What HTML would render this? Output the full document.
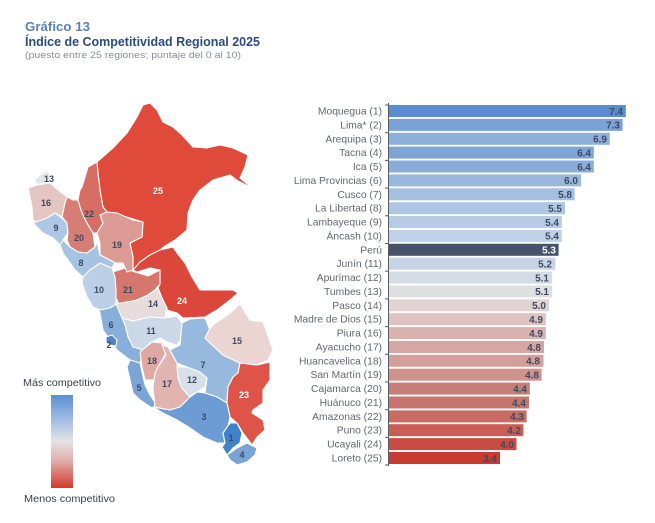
<!DOCTYPE html>
<html><head><meta charset="utf-8"><style>
html,body{margin:0;padding:0;background:#fff;}
svg{display:block;font-family:"Liberation Sans",sans-serif;}
</style></head><body>
<svg width="655" height="523" viewBox="0 0 655 523" xmlns="http://www.w3.org/2000/svg">
<defs>
<linearGradient id="lg" x1="0" y1="0" x2="0" y2="1">
<stop offset="0" stop-color="#5b8fd3"/>
<stop offset="0.3" stop-color="#a9c3e4"/>
<stop offset="0.5" stop-color="#e6e3e4"/>
<stop offset="0.72" stop-color="#dfaaa6"/>
<stop offset="1" stop-color="#d5372b"/>
</linearGradient>
</defs>
<!-- Titles -->
<text x="25" y="31" font-size="13" font-weight="bold" fill="#5a80b8" textLength="65" lengthAdjust="spacingAndGlyphs">Gráfico 13</text>
<text x="25" y="46" font-size="13" font-weight="bold" fill="#2c4c80" textLength="235" lengthAdjust="spacingAndGlyphs">Índice de Competitividad Regional 2025</text>
<text x="25" y="58" font-size="9.5" fill="#8a8f99" textLength="216" lengthAdjust="spacingAndGlyphs">(puesto entre 25 regiones; puntaje del 0 al 10)</text>

<!-- Map -->
<g stroke="#ffffff" stroke-width="1.1" stroke-linejoin="round">
<polygon fill="#e04a3b" points="97,162 113,148 127,133 137,117 143,105 150,103 157,110 163,122 173,127 182,135 193,147 207,148 220,145 233,148 248,155 245,167 240,178 252,188 238,181 230,175 213,180 200,190 193,200 188,213 187,230 175,240 165,246 160,250 150,255 140,262 133,270 133,257 130,243 142,237 143,222 130,218 115,214 107,212 103,207 100,190 98,173"/>
<polygon fill="#dc473b" points="160,250 173,247 177,253 185,263 192,277 200,290 217,290 233,290 238,293 230,300 217,310 205,317 183,318 177,313 167,310 162,298 158,288 160,284 160,270 150,268 137,272 133,270 140,262 150,255"/>
<polygon fill="#d7766d" points="113,272 125,268 135,272 148,276 160,270 160,284 155,290 148,295 137,300 120,306 116,298 115,285"/>
<polygon fill="#e6dcdc" points="116,304 137,300 148,295 158,288 162,298 167,308 165,318 150,317 133,321 122,318"/>
<polygon fill="#cbd8e7" points="122,318 133,321 150,317 165,318 177,316 182,323 182,338 177,345 167,342 160,338 150,343 143,350 133,347 128,337 125,325"/>
<polygon fill="#88afdb" points="97,307 103,307 110,308 116,304 122,318 125,325 128,337 133,347 143,350 140,363 130,360 117,350 112,343 103,330 100,313"/>
<polygon fill="#4c86c9" points="106,337 112,335 117,340 116,346 110,345 106,342"/>
<polygon fill="#bbd0e6" points="83,277 90,270 100,263 112,268 115,277 116,290 116,304 110,308 100,310 93,307 87,297 82,283"/>
<polygon fill="#7ba5d7" points="130,360 140,363 142,372 145,385 150,395 157,405 152,408 140,400 133,393 130,380 127,367"/>
<polygon fill="#dea8a4" points="140,352 152,342 162,343 166,353 158,367 155,380 145,380 142,367"/>
<polygon fill="#e2b4b0" points="162,345 168,347 177,363 178,378 182,388 190,397 180,407 170,410 155,407 153,387 155,373 158,367 166,355"/>
<polygon fill="#d7dfe9" points="177,367 187,367 200,372 207,378 205,387 197,392 190,397 182,388 178,378"/>
<polygon fill="#98b9de" points="180,345 182,323 190,319 205,318 210,330 210,343 223,355 240,363 238,373 233,377 228,387 227,403 217,397 205,393 207,378 200,372 187,367 177,363 170,350"/>
<polygon fill="#ebd5d3" points="205,338 210,328 217,322 230,313 240,304 245,312 250,320 263,322 273,350 268,360 257,365 240,363 223,355 210,343"/>
<polygon fill="#df5448" points="240,363 257,365 270,362 270,380 263,390 263,403 253,410 252,413 263,420 265,430 257,437 252,445 243,433 237,423 230,417 227,403 228,387 233,377 238,373"/>
<polygon fill="#6d9bd3" points="153,407 170,410 180,407 190,397 197,392 205,393 217,397 227,403 230,417 228,427 223,433 225,443 217,443 203,437 190,428 177,420 163,413"/>
<polygon fill="#3f82c9" points="223,433 230,423 237,423 242,433 240,443 233,448 227,455 222,447 225,443"/>
<polygon fill="#7aa3d6" points="227,455 237,448 247,443 257,448 255,455 247,462 237,465 230,460"/>
<polygon fill="#e3e4e8" points="35,180 40,175 45,172 49,172 50,180 43,184 36,184"/>
<polygon fill="#e5c5c2" points="28,188 37,185 50,183 58,190 67,197 65,203 62,217 55,213 47,218 38,223 33,220 32,207 30,197"/>
<polygon fill="#adc8e4" points="33,223 47,218 55,213 62,218 67,223 68,233 63,240 60,245 53,238 43,233"/>
<polygon fill="#d67e76" points="67,197 73,200 78,200 82,213 87,223 93,233 95,247 87,253 78,252 70,247 67,240 68,233 67,223 62,217 65,203"/>
<polygon fill="#d76e63" points="82,187 88,167 97,162 98,173 100,190 103,207 107,212 100,215 103,223 97,233 93,233 87,223 82,213 78,200 80,190"/>
<polygon fill="#db9a93" points="100,215 107,212 117,213 133,220 143,222 142,237 130,243 133,257 133,270 127,272 123,263 115,263 110,260 100,255 100,243 97,233 103,223"/>
<polygon fill="#a6c3e2" points="60,245 63,240 70,247 78,252 87,253 95,247 97,242 100,255 110,260 115,263 112,268 100,263 90,270 83,277 75,270 68,260 63,253"/>
</g>
<g font-size="9" font-weight="bold" fill="#3c4a63" text-anchor="middle">
<text x="158" y="194" fill="#ffffff">25</text>
<text x="182" y="304" fill="#ffffff">24</text>
<text x="244" y="398" fill="#ffffff">23</text>
<text x="89" y="217">22</text>
<text x="128" y="293">21</text>
<text x="79" y="241">20</text>
<text x="117" y="248">19</text>
<text x="152" y="364">18</text>
<text x="167" y="387">17</text>
<text x="46" y="206">16</text>
<text x="237" y="344">15</text>
<text x="153" y="307">14</text>
<text x="49" y="182">13</text>
<text x="192" y="383">12</text>
<text x="151" y="334">11</text>
<text x="99" y="293">10</text>
<text x="56" y="231">9</text>
<text x="81" y="266">8</text>
<text x="203" y="368">7</text>
<text x="111" y="328">6</text>
<text x="139" y="391">5</text>
<text x="242" y="458">4</text>
<text x="204" y="420">3</text>
<text x="109" y="348">2</text>
<text x="231" y="441">1</text>
</g>

<!-- Legend -->
<text x="23" y="386" font-size="10" fill="#3a3f4a" textLength="78" lengthAdjust="spacingAndGlyphs">Más competitivo</text>
<rect x="51" y="395" width="22" height="93" fill="url(#lg)"/>
<text x="24" y="502" font-size="10" fill="#3a3f4a" textLength="91" lengthAdjust="spacingAndGlyphs">Menos competitivo</text>

<!-- Bars -->
<g>
<rect x="389" y="105.0" width="236.8" height="12" fill="#5b8ccf"/>
<rect x="389" y="118.9" width="233.6" height="12" fill="#7ba2d7"/>
<rect x="389" y="132.8" width="220.8" height="12" fill="#8db0db"/>
<rect x="389" y="146.6" width="204.8" height="12" fill="#7fa5d6"/>
<rect x="389" y="160.5" width="204.8" height="12" fill="#89acd8"/>
<rect x="389" y="174.4" width="192" height="12" fill="#9ab8dd"/>
<rect x="389" y="188.3" width="185.6" height="12" fill="#a4bfe0"/>
<rect x="389" y="202.2" width="176" height="12" fill="#afc6e2"/>
<rect x="389" y="216.0" width="172.8" height="12" fill="#b7cce4"/>
<rect x="389" y="229.9" width="172.8" height="12" fill="#bfd1e6"/>
<rect x="389" y="243.8" width="169.6" height="12" fill="#47536a"/>
<rect x="389" y="257.7" width="166.4" height="12" fill="#c6d4e5"/>
<rect x="389" y="271.6" width="163.2" height="12" fill="#d4dbe4"/>
<rect x="389" y="285.4" width="163.2" height="12" fill="#dedfe1"/>
<rect x="389" y="299.3" width="160" height="12" fill="#e2d3d3"/>
<rect x="389" y="313.2" width="156.8" height="12" fill="#dec3c1"/>
<rect x="389" y="327.1" width="156.8" height="12" fill="#dab3b0"/>
<rect x="389" y="341.0" width="155" height="12" fill="#d5a6a2"/>
<rect x="389" y="354.8" width="154.5" height="12" fill="#d39f9b"/>
<rect x="389" y="368.7" width="152.6" height="12" fill="#cf928d"/>
<rect x="389" y="382.6" width="140.8" height="12" fill="#c97d77"/>
<rect x="389" y="396.5" width="140" height="12" fill="#c8756e"/>
<rect x="389" y="410.4" width="137.6" height="12" fill="#c86b63"/>
<rect x="389" y="424.2" width="134.4" height="12" fill="#c95c53"/>
<rect x="389" y="438.1" width="127.5" height="12" fill="#c84c42"/>
<rect x="389" y="452.0" width="111" height="12" fill="#c73b30"/>
</g>
<!-- axis -->
<g stroke="#555a63" stroke-width="1">
<line x1="388.5" y1="103" x2="388.5" y2="466"/>
<line x1="385" y1="105" x2="388.5" y2="105"/>
<line x1="385" y1="132.7" x2="388.5" y2="132.7"/>
<line x1="385" y1="160.4" x2="388.5" y2="160.4"/>
<line x1="385" y1="188.1" x2="388.5" y2="188.1"/>
<line x1="385" y1="215.8" x2="388.5" y2="215.8"/>
<line x1="385" y1="243.5" x2="388.5" y2="243.5"/>
<line x1="385" y1="271.2" x2="388.5" y2="271.2"/>
<line x1="385" y1="298.9" x2="388.5" y2="298.9"/>
<line x1="385" y1="326.6" x2="388.5" y2="326.6"/>
<line x1="385" y1="354.3" x2="388.5" y2="354.3"/>
<line x1="385" y1="382" x2="388.5" y2="382"/>
<line x1="385" y1="409.7" x2="388.5" y2="409.7"/>
<line x1="385" y1="437.4" x2="388.5" y2="437.4"/>
<line x1="385" y1="465" x2="388.5" y2="465"/>
</g>
<!-- category labels -->
<g font-size="10.3" fill="#62676f" text-anchor="end">
<text x="382" y="114.5">Moquegua (1)</text>
<text x="382" y="128.4">Lima* (2)</text>
<text x="382" y="142.3">Arequipa (3)</text>
<text x="382" y="156.1">Tacna (4)</text>
<text x="382" y="170.0">Ica (5)</text>
<text x="382" y="183.9">Lima Provincias (6)</text>
<text x="382" y="197.8">Cusco (7)</text>
<text x="382" y="211.7">La Libertad (8)</text>
<text x="382" y="225.5">Lambayeque (9)</text>
<text x="382" y="239.4">Áncash (10)</text>
<text x="382" y="253.3">Perú</text>
<text x="382" y="267.2">Junín (11)</text>
<text x="382" y="281.1">Apurímac (12)</text>
<text x="382" y="294.9">Tumbes (13)</text>
<text x="382" y="308.8">Pasco (14)</text>
<text x="382" y="322.7">Madre de Dios (15)</text>
<text x="382" y="336.6">Piura (16)</text>
<text x="382" y="350.5">Ayacucho (17)</text>
<text x="382" y="364.3">Huancavelica (18)</text>
<text x="382" y="378.2">San Martín (19)</text>
<text x="382" y="392.1">Cajamarca (20)</text>
<text x="382" y="406.0">Huánuco (21)</text>
<text x="382" y="419.9">Amazonas (22)</text>
<text x="382" y="433.7">Puno (23)</text>
<text x="382" y="447.6">Ucayali (24)</text>
<text x="382" y="461.5">Loreto (25)</text>
</g>
<!-- value labels -->
<g font-size="10" font-weight="bold" fill="#3e4a64" text-anchor="end">
<text x="623" y="114.8">7.4</text>
<text x="620" y="128.7">7.3</text>
<text x="607" y="142.6">6.9</text>
<text x="591" y="156.4">6.4</text>
<text x="591" y="170.3">6.4</text>
<text x="578" y="184.2">6.0</text>
<text x="572" y="198.1">5.8</text>
<text x="562" y="212.0">5.5</text>
<text x="559" y="225.8">5.4</text>
<text x="559" y="239.7">5.4</text>
<text x="556" y="253.6" fill="#ffffff">5.3</text>
<text x="552" y="267.5">5.2</text>
<text x="549" y="281.4">5.1</text>
<text x="549" y="295.2">5.1</text>
<text x="546" y="309.1">5.0</text>
<text x="543" y="323.0">4.9</text>
<text x="543" y="336.9">4.9</text>
<text x="541" y="350.8">4.8</text>
<text x="540" y="364.6">4.8</text>
<text x="539" y="378.5">4.8</text>
<text x="527" y="392.4">4.4</text>
<text x="526" y="406.3">4.4</text>
<text x="524" y="420.2">4.3</text>
<text x="521" y="434.0">4.2</text>
<text x="514" y="447.9">4.0</text>
<text x="497" y="461.8">3.4</text>
</g>
</svg>
</body></html>
